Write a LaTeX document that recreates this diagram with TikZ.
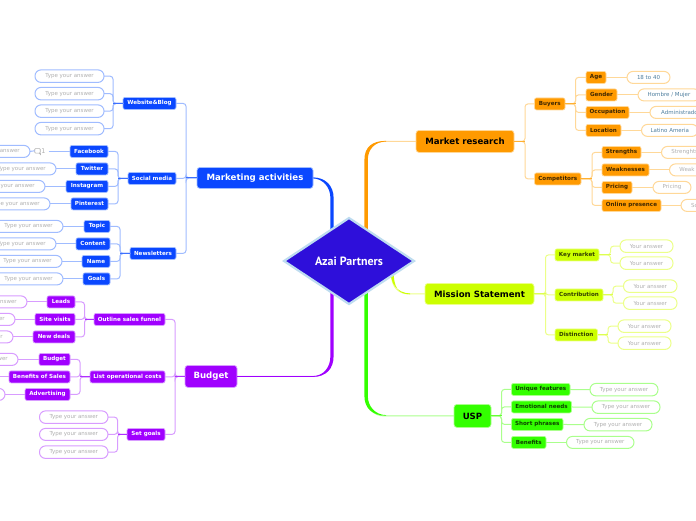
\documentclass[tikz,border=0pt]{standalone}
\usepackage{fontspec}
\setmainfont{DejaVu Sans}
\newfontfamily\rootfont{PT Sans}
\usetikzlibrary{shapes.geometric}
\definecolor{bluem}{HTML}{0A47FF}\definecolor{bluep}{HTML}{A0BCFF}\definecolor{bluel}{HTML}{3D70FF}
\definecolor{purpm}{HTML}{A000FF}\definecolor{purpp}{HTML}{D89CFF}\definecolor{purpl}{HTML}{B030FF}
\definecolor{oranm}{HTML}{FF9A00}\definecolor{oranp}{HTML}{FFD898}\definecolor{oranl}{HTML}{FFB030}
\definecolor{yelom}{HTML}{CCFF00}\definecolor{yelop}{HTML}{ECFF88}\definecolor{yelol}{HTML}{DDFF50}
\definecolor{gremm}{HTML}{33FF00}\definecolor{gremp}{HTML}{AAFF8C}\definecolor{greml}{HTML}{66FF33}
\definecolor{anstext}{HTML}{B0B0B0}
\definecolor{rootfill}{HTML}{2E0FDA}\definecolor{rootedge}{HTML}{BEDCF0}\definecolor{valtext}{HTML}{4F7F9F}
\newcommand{\nd}[7]{\node[#6,minimum width={(#4-#3)*1pt},minimum height={(#5-#2)*1pt}] (#1) at ({(#3+#4)/2},{(#2+#5)/2+.4}) {#7};}
% args: name, ytop, xleft, xright, ybottom, style, text
\newcommand{\busl}[4]{\foreach \c in {#3}{\draw[#4p,line width=1pt,rounded corners=3pt] (#1.west) -- ++(-#2,0) |- (\c.east);}\draw[#4l,line width=1pt] (#1.west) -- ++(-#2,0);}
\newcommand{\busr}[4]{\foreach \c in {#3}{\draw[#4p,line width=1pt,rounded corners=3pt] (#1.east) -- ++(#2,0) |- (\c.west);}\draw[#4l,line width=1pt] (#1.east) -- ++(#2,0);}
\tikzset{
 boxb/.style={rectangle,rounded corners=2pt,inner sep=0pt,outer sep=0pt,line width=.7pt,font=\bfseries\fontsize{5.6}{6}\selectfont},
 big/.style={rectangle,rounded corners=3pt,inner sep=0pt,outer sep=0pt,line width=.7pt,font=\bfseries\fontsize{8.6}{10}\selectfont},
 blu/.style={boxb,fill=bluem,draw=bluep,text=white},
 pur/.style={boxb,fill=purpm,draw=purpp,text=white},
 ora/.style={boxb,fill=oranm,draw=oranp,text=black!75!oranm},
 yel/.style={boxb,fill=yelom,draw=yelop,text=black!75!yelom},
 grn/.style={boxb,fill=gremm,draw=gremp,text=black!75!gremm},
 pill/.style={rectangle,rounded corners=6pt,inner sep=0pt,outer sep=0pt,line width=1pt,fill=white,text=anstext,font=\fontsize{5.5}{6}\selectfont},
 pb/.style={pill,draw=bluep},pp/.style={pill,draw=purpp},po/.style={pill,draw=oranp},py/.style={pill,draw=yelop},pg/.style={pill,draw=gremp},
 pv/.style={po,text=valtext},
 lin/.style={line width=1pt}
}
\begin{document}
\begin{tikzpicture}[x=1pt,y=-1pt]
\useasboundingbox (0,0) rectangle (696,520);
\clip (0,0) rectangle (696,520);
\fill[white] (0,0) rectangle (696,520);
% ---- root
\node[diamond,draw=none,fill=none,minimum width=132pt,minimum height=88pt,inner sep=0pt,outer sep=0pt] (root) at (349,261) {};
% ---- level 1
\nd{mr}{130}{416}{514}{152}{big,fill=oranm,draw=oranp,text=black}{Market research}
\nd{ma}{167}{197}{313}{188}{big,fill=bluem,draw=bluep,text=white}{Marketing activities}
\nd{ms}{283}{425}{534}{304}{big,fill=yelom,draw=yelop,text=black}{Mission Statement}
\nd{bu}{365}{185}{237}{387}{big,fill=purpm,draw=purpp,text=white}{Budget}
\nd{us}{404}{454}{491}{427}{big,fill=gremm,draw=gremp,text=black}{USP}
% ---- blue level 2
\nd{wb}{97}{123}{176}{109}{blu}{Website\&Blog}
\nd{sm}{172}{128}{176}{184}{blu}{Social media}
\nd{nl}{247}{130}{176}{259}{blu}{Newsletters}
\nd{fb}{145}{70}{108}{157}{blu}{Facebook}
\nd{tw}{162.5}{76}{108}{174.5}{blu}{Twitter}
\nd{ig}{180}{66}{108}{192}{blu}{Instagram}
\nd{pi}{197.5}{71}{108}{209.5}{blu}{Pinterest}
\nd{to}{220}{84}{110}{232}{blu}{Topic}
\nd{co}{237.5}{76}{110}{249.5}{blu}{Content}
\nd{na}{255}{82}{110}{267}{blu}{Name}
\nd{go}{272.5}{83}{110}{284.5}{blu}{Goals}
\nd{wa}{69.5}{35}{104}{82}{pb}{Type your answer}
\nd{wc}{87}{35}{104}{99.5}{pb}{Type your answer}
\nd{wd}{104.5}{35}{104}{117}{pb}{Type your answer}
\nd{we}{122}{35}{104}{134.5}{pb}{Type your answer}
\nd{fa}{145}{-39}{30}{157}{pb}{Type your answer}
\nd{ta}{162.5}{-13}{56}{174.5}{pb}{Type your answer}
\nd{ia}{180}{-24}{45}{192}{pb}{Type your answer}
\nd{pa}{197.5}{-19}{50}{209.5}{pb}{Type your answer}
\nd{tn}{220}{-6}{63}{232}{pb}{Type your answer}
\nd{cn}{237.5}{-13}{56}{249.5}{pb}{Type your answer}
\nd{nn}{255}{-7}{62}{267}{pb}{Type your answer}
\nd{gn}{272.5}{-6}{63}{284.5}{pb}{Type your answer}
% ---- purple level 2
\nd{os}{313}{94}{165}{325}{pur}{Outline sales funnel}
\nd{lo}{370.5}{90}{165}{382.5}{pur}{List operational costs}
\nd{sg}{428}{127}{165}{440}{pur}{Set goals}
\nd{le}{295.5}{47}{75}{307.5}{pur}{Leads}
\nd{sv}{313}{35}{75}{325}{pur}{Site visits}
\nd{nd}{330.5}{33}{75}{342.5}{pur}{New deals}
\nd{bd}{353}{39}{70}{365}{pur}{Budget}
\nd{bs}{370.5}{9}{70}{382.5}{pur}{Benefits of Sales}
\nd{ad}{388}{25}{70}{400}{pur}{Advertising}
\nd{lea}{295.5}{-42}{27}{307.5}{pp}{Type your answer}
\nd{sva}{313}{-54}{15}{325}{pp}{Type your answer}
\nd{nda}{330.5}{-56}{13}{342.5}{pp}{Type your answer}
\nd{bda}{353}{-51}{18}{365}{pp}{Type your answer}
\nd{ada}{388}{-64}{5}{400}{pp}{Type your answer}
\nd{sga}{410.5}{39.5}{108}{423}{pp}{Type your answer}
\nd{sgb}{428}{39.5}{108}{440}{pp}{Type your answer}
\nd{sgc}{445.5}{39.5}{108}{458}{pp}{Type your answer}
% ---- orange level 2
\nd{by}{97.5}{534.5}{565}{109.5}{ora}{Buyers}
\nd{cp}{172.5}{534.5}{581}{184.5}{ora}{Competitors}
\nd{ag}{71}{586}{606}{83}{ora}{Age}
\nd{ge}{88.5}{586}{617}{100.5}{ora}{Gender}
\nd{oc}{106}{586}{629}{118}{ora}{Occupation}
\nd{lc}{124}{586}{621}{136}{ora}{Location}
\nd{st}{146}{602}{641}{158}{ora}{Strengths}
\nd{wk}{163.5}{602}{649}{175.5}{ora}{Weaknesses}
\nd{pr}{181}{602}{632}{193}{ora}{Pricing}
\nd{op}{199}{602}{661}{211}{ora}{Online presence}
\nd{aga}{71}{627}{670}{83}{pv}{18 to 40}
\nd{gea}{88.5}{638}{700}{100.5}{pv}{Hombre / Mujer}
\nd{oca}{106}{650}{709}{118}{pv}{Administrado}
\nd{lca}{124}{641.5}{698}{136}{pv}{Latino Ameria}
\nd{sta}{146}{661.5}{708}{158}{po}{Strenghts}
\nd{wka}{163.5}{669.5}{704.5}{175.5}{po}{Weak}
\nd{pra}{181}{653}{691}{193}{po}{Pricing}
\nd{opa}{199}{681}{708}{211}{po}{So}
% ---- yellow level 2
\nd{km}{248.5}{555}{599}{260.5}{yel}{Key market}
\nd{cb}{288.5}{555}{603}{300.5}{yel}{Contribution}
\nd{ds}{328.5}{555}{597.5}{340.5}{yel}{Distinction}
\nd{kma}{239.5}{620}{673}{252}{py}{Your answer}
\nd{kmb}{256.5}{620}{673}{269}{py}{Your answer}
\nd{cba}{279.5}{623.5}{677}{292}{py}{Your answer}
\nd{cbb}{296.5}{623.5}{677}{309}{py}{Your answer}
\nd{dsa}{319.5}{618}{671}{332}{py}{Your answer}
\nd{dsb}{336.5}{618}{671}{349}{py}{Your answer}
% ---- green level 2
\nd{uf}{383}{511.5}{570}{395}{grn}{Unique features}
\nd{en}{400.5}{511.5}{571.5}{412.5}{grn}{Emotional needs}
\nd{sp}{418}{511.5}{563}{430}{grn}{Short phrases}
\nd{bn}{436}{511.5}{546}{448}{grn}{Benefits}
\nd{ufa}{383}{590}{658}{395.5}{pg}{Type your answer}
\nd{ena}{400.5}{592}{660}{413}{pg}{Type your answer}
\nd{spa}{418}{584}{652}{430.5}{pg}{Type your answer}
\nd{bna}{436}{566.5}{634}{448}{pg}{Type your answer}
% ---- comment marker
\node[inner sep=0pt,outer sep=0pt,text=anstext,font=\fontsize{6.5}{7}\selectfont] (cnt) at (43.5,151.4) {1};
\node[draw=anstext,line width=.6pt,rounded corners=.8pt,inner sep=0pt,outer sep=0pt,minimum width=5.5pt,minimum height=4.5pt] (cic) at (37.5,150.8) {};
\draw[anstext,line width=.6pt] (cic.south east) ++(-1.2,0) -- ++(1.6,1.6) -- ++(0,-1.6);
% ---- connectors: main branches
\draw[oranp,line width=1pt,rounded corners=18pt] (mr.west) -| ([xshift=17]root.center);
\draw[bluep,line width=1pt,rounded corners=18pt] (ma.east) -| ([xshift=-17]root.center);
\draw[purpp,line width=1pt,rounded corners=18pt] (bu.east) -| ([xshift=-17]root.center);
\draw[gremp,line width=1pt,rounded corners=18pt] (us.west) -| ([xshift=17]root.center);
\draw[yelop,line width=1pt,rounded corners=16pt] (ms.west) -| ([xshift=43]root.center);
\fill[oranm] (364.4,240) -- (364.4,160) .. controls (364.4,147) and (372,140.9) .. (386,140.9) -- (386,141.5) .. controls (375,141.7) and (367.8,149) .. (367.8,160) -- (367.8,240) -- cycle;
\fill[gremm] (364.4,285) -- (364.4,396) .. controls (364.4,408) and (372,415.4) .. (386,415.7) -- (386,415.1) .. controls (375,414.9) and (367.8,406) .. (367.8,396) -- (367.8,285) -- cycle;
\fill[bluem] (330.4,240) -- (330.4,198) .. controls (330.4,187) and (323,178.9) .. (313,178.3) -- (313,177.5) .. controls (326,177.6) and (333.6,186) .. (333.6,198) -- (333.6,240) -- cycle;
\fill[purpm] (330.4,285) -- (330.4,356) .. controls (330.4,368) and (323,375.9) .. (313,376.1) -- (237,376.1) -- (237,376.9) -- (313,376.9) .. controls (326,376.7) and (333.6,369) .. (333.6,356) -- (333.6,285) -- cycle;
\fill[yelom] (390.4,270) .. controls (390.4,284) and (397,292.9) .. (410,293.5) -- (410,294.3) .. controls (398,294) and (393.6,288) .. (393.6,270) -- cycle;
% ---- root on top
\node[diamond,draw=rootedge,line width=2.2pt,fill=rootfill,text=white,minimum width=130pt,minimum height=86pt,inner sep=0pt,outer sep=0pt,font=\rootfont\bfseries\fontsize{12}{14}\selectfont] at (root.center) {Azai Partners};
% ---- connectors: trees
\busl{ma}{11}{wb,sm,nl}{blue}
\busl{wb}{10}{wa,wc,wd,we}{blue}
\busl{sm}{10}{fb,tw,ig,pi}{blue}
\busl{nl}{10}{to,co,na,go}{blue}
\busl{bu}{10}{os,lo,sg}{purp}
\busl{os}{9.5}{le,sv,nd}{purp}
\busl{lo}{10}{bd,bs,ad}{purp}
\busl{sg}{9.5}{sga,sgb,sgc}{purp}
\busr{mr}{11}{by,cp}{oran}
\busr{by}{10.5}{ag,ge,oc,lc}{oran}
\busr{cp}{11}{st,wk,pr,op}{oran}
\busr{ms}{11.5}{km,cb,ds}{yelo}
\busr{km}{11.5}{kma,kmb}{yelo}
\busr{cb}{10}{cba,cbb}{yelo}
\busr{ds}{10.5}{dsa,dsb}{yelo}
\busr{us}{10.5}{uf,en,sp,bn}{grem}
\foreach \a/\b in {ta/tw,ia/ig,pa/pi,tn/to,cn/co,nn/na,gn/go}{\draw[bluep,lin] (\a) -- (\b);}
\draw[bluep,lin] (cnt.east)++(3,0) -- (fb.west);
\draw[bluep,lin] (fa.east) -- (cic.west);
\foreach \a/\b in {lea/le,sva/sv,nda/nd,bda/bd,ada/ad}{\draw[purpp,lin] (\a) -- (\b);}
\draw[purpp,lin] (bs.west) -- ++(-12,0);
\foreach \a/\b in {ag/aga,ge/gea,oc/oca,lc/lca,st/sta,wk/wka,pr/pra,op/opa}{\draw[oranp,lin] (\a) -- (\b);}
\foreach \a/\b in {uf/ufa,en/ena,sp/spa,bn/bna}{\draw[gremp,lin] (\a) -- (\b);}
\end{tikzpicture}
\end{document}
